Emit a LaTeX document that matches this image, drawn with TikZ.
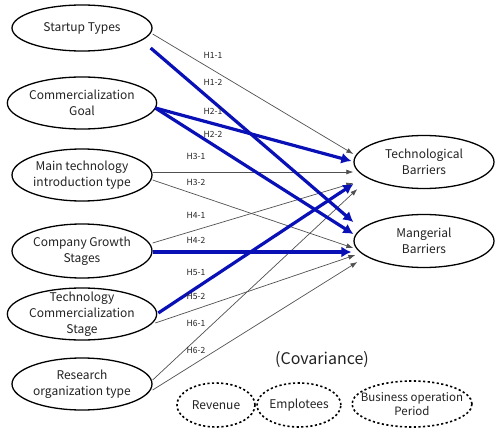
\documentclass[tikz,border=0pt]{standalone}
\usepackage{fontspec}
\setmainfont{Noto Sans CJK KR}
\usetikzlibrary{shapes.geometric,arrows.meta}

\definecolor{hblue}{RGB}{8,16,182}
\definecolor{hgray}{RGB}{80,80,80}
\definecolor{htext}{RGB}{34,34,34}

\tikzset{
  var/.style={ellipse, draw, line width=1.3pt, minimum width=140pt, minimum height=52pt,
    inner xsep=0pt, inner ysep=-8pt, align=center, text=htext,
    font=\fontsize{12}{16}\selectfont},
  cov/.style={var, line width=1.6pt, dash pattern=on 2.2pt off 2.4pt, minimum width=78pt,
    minimum height=44pt},
  thinarr/.style={draw=hgray, line width=0.7pt, -{Latex[length=7pt,width=5pt]}},
  bluearr/.style={draw=hblue, line width=3.2pt, -{Latex[length=10pt,width=11pt]}},
  hlab/.style={font=\fontsize{8.5}{10}\selectfont, text=htext, inner sep=0pt}
}

\begin{document}
\begin{tikzpicture}[x=1pt,y=1pt]
    \useasboundingbox (0,0) rectangle (495,432);

    % independent variables
    \node[var, minimum height=46pt] (st) at (82,404) {Startup Types};
    \node[var] (cg) at (82,329) {Commercialization\\Goal};
    \node[var] (mt) at (82,257) {Main technology\\introduction type};
    \node[var, minimum height=54pt] (gs) at (82,181) {Company Growth\\Stages};
    \node[var] (tc) at (82,118) {Technology\\Commercialization\\Stage};
    \node[var] (ro) at (82,48) {Research\\organization type};

    % dependent variables
    \node[var, minimum height=53pt] (tech) at (424,270) {Technological\\Barriers};
    \node[var, minimum height=53pt] (mang) at (424,191) {Mangerial\\Barriers};

    % covariance
    \node[font=\fontsize{16}{18}\selectfont, text=htext] (covlab) at (322,72) {(Covariance)};
    \node[cov] (rev) at (216,27) {Revenue};
    \node[cov] (emp) at (299,27) {Emplotees};
    \node[cov, minimum width=120pt, minimum height=46pt, inner xsep=-11pt,
      font=\fontsize{11.5}{14}\selectfont] (bop) at (412,28) {Business operation\\Period};

    % thin paths
    \draw[thinarr] ([yshift=-6pt]st.east) -- ([yshift=8pt]tech.west);
    \draw[thinarr] ([yshift=3pt]mt.east) -- ([yshift=-10pt]tech.west);
    \draw[thinarr] ([yshift=-5pt]mt.east) -- ([yshift=-7pt]mang.west);
    \draw[thinarr] ([yshift=8pt]gs.east) -- ([yshift=-21pt]tech.west);
    \draw[thinarr] ([yshift=-9pt,xshift=-2pt]tc.east) -- ([yshift=-14pt,xshift=2pt]mang.west);
    \draw[thinarr] ([yshift=4pt]ro.east) -- ([yshift=-27pt,xshift=4pt]tech.west);
    \draw[thinarr] ([yshift=-6pt]ro.east) -- ([yshift=-21pt,xshift=4pt]mang.west);

    % thick paths
    \draw[bluearr] ([yshift=-20pt,xshift=-2pt]st.east) -- ([yshift=19pt]mang.west);
    \draw[bluearr] ([yshift=-5pt,xshift=-2pt]cg.east) -- ([yshift=1pt,xshift=-2pt]tech.west);
    \draw[bluearr] ([yshift=-5pt,xshift=-2pt]cg.east) -- ([yshift=7pt]mang.west);
    \draw[bluearr] ([yshift=-1pt]gs.east) -- ([yshift=-11pt,xshift=-2pt]mang.west);
    \draw[bluearr] ([yshift=1pt,xshift=1pt]tc.east) -- ([yshift=-22pt]tech.west);

    % path labels
    \node[hlab] (h11) at (213,377) {H1-1};
    \node[hlab] (h12) at (213,350) {H1-2};
    \node[hlab] (h21) at (213,321) {H2-1};
    \node[hlab] (h22) at (213,298) {H2-2};
    \node[hlab] (h31) at (196,276) {H3-1};
    \node[hlab] (h32) at (196,250) {H3-2};
    \node[hlab] (h41) at (196,217) {H4-1};
    \node[hlab] (h42) at (196,192) {H4-2};
    \node[hlab] (h51) at (196,160) {H5-1};
    \node[hlab] (h52) at (196,136) {H5-2};
    \node[hlab] (h61) at (196,109) {H6-1};
    \node[hlab] (h62) at (196,82) {H6-2};
\end{tikzpicture}
\end{document}
